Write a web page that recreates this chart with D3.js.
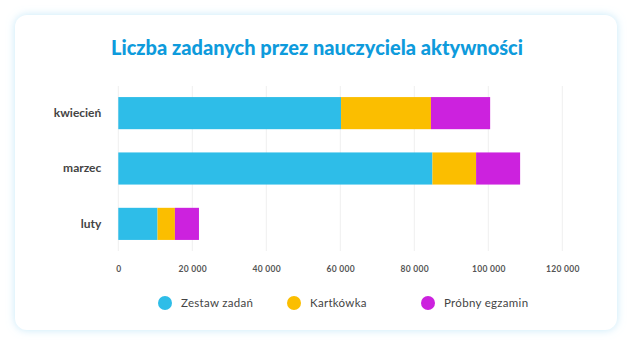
<!DOCTYPE html>
<html>
<head>
<meta charset="utf-8">
<script src="https://cdn.jsdelivr.net/npm/d3@7"></script>
<style>
  html, body { margin: 0; padding: 0; background: #ffffff; }
  svg { display: block; }
</style>
</head>
<body>
<svg id="chart" width="634" height="348"></svg>
<script>
// Months shown on the vertical axis (top to bottom)
const categories = ["kwiecień", "marzec", "luty"];
// Series names and colours
const seriesNames = ["Zestaw zadań", "Kartkówka", "Próbny egzamin"];
const seriesColors = ["#2ebde8", "#fbbe00", "#cc22de"];
// Values per series, aligned with categories
const zestawZadan = [60200, 84900, 10600];
const kartkowka = [24300, 11800, 4700];
const probnyEgzamin = [16000, 11900, 6500];
// Axis ticks
const xTicks = [0, 20000, 40000, 60000, 80000, 100000, 120000];

const seriesValues = [zestawZadan, kartkowka, probnyEgzamin];
const rows = categories.map((c, i) => {
  const r = { category: c };
  seriesNames.forEach((s, j) => { r[s] = seriesValues[j][i]; });
  return r;
});

const svg = d3.select("#chart");
const W = 634, H = 348;
const font = "Lato, 'Open Sans', sans-serif";

// Card with soft blue glow
const defs = svg.append("defs");
const glow = defs.append("filter").attr("id", "glow")
  .attr("x", "-10%").attr("y", "-10%").attr("width", "120%").attr("height", "120%");
glow.append("feDropShadow").attr("dx", 0).attr("dy", 0).attr("stdDeviation", 4)
  .attr("flood-color", "#bfe6f8").attr("flood-opacity", 0.9);

svg.append("rect")
  .attr("x", 15).attr("y", 15).attr("width", 602).attr("height", 315)
  .attr("rx", 12).attr("ry", 12)
  .attr("fill", "#ffffff")
  .attr("filter", "url(#glow)");

// Title
svg.append("text")
  .attr("x", 317).attr("y", 55)
  .attr("text-anchor", "middle")
  .attr("font-family", font)
  .attr("font-weight", 900)
  .attr("font-size", 20)
  .attr("fill", "#0e9bdc")
  .text("Liczba zadanych przez nauczyciela aktywności");

// Plot area
const margin = { left: 118.3, right: 634 - 562.3, top: 86, bottom: 348 - 251 };
const x = d3.scaleLinear().domain([0, 120000]).range([margin.left, W - margin.right]);
const y = d3.scaleBand().domain(categories).range([margin.top, H - margin.bottom])
  .paddingInner(0.42).paddingOuter(0.2);

// Vertical gridlines
svg.append("g").selectAll("line").data(xTicks).join("line")
  .attr("x1", d => x(d)).attr("x2", d => x(d))
  .attr("y1", margin.top).attr("y2", H - margin.bottom)
  .attr("stroke", "#efefef").attr("stroke-width", 1);

// Stacked bars
const stack = d3.stack().keys(seriesNames);
const stacked = stack(rows);
svg.append("g").selectAll("g").data(stacked).join("g")
  .attr("fill", (d, i) => seriesColors[i])
  .selectAll("rect").data(d => d).join("rect")
  .attr("x", d => x(d[0]))
  .attr("width", d => x(d[1]) - x(d[0]))
  .attr("y", d => y(d.data.category))
  .attr("height", y.bandwidth());

// X axis labels (space as thousands separator)
const xAxis = d3.axisBottom(x).tickValues(xTicks).tickSize(0).tickPadding(0)
  .tickFormat(d => d3.format(",")(d).replace(/,/g, "\u00a0"));
const gx = svg.append("g").attr("transform", `translate(0,${H - margin.bottom + 15})`).call(xAxis);
gx.select(".domain").remove();
gx.selectAll("text")
  .attr("font-family", font).attr("font-weight", 700).attr("font-size", 8.5)
  .attr("letter-spacing", 0.3)
  .attr("fill", "#555555");

// Y axis labels
const yAxis = d3.axisLeft(y).tickSize(0).tickPadding(17);
const gy = svg.append("g").attr("transform", `translate(${margin.left},0)`).call(yAxis);
gy.select(".domain").remove();
gy.selectAll("text")
  .attr("font-family", font).attr("font-weight", 700).attr("font-size", 12)
  .attr("fill", "#444444");

// Legend
const legendX = [165, 294, 428];
const legend = svg.append("g").selectAll("g").data(seriesNames).join("g")
  .attr("transform", (d, i) => `translate(${legendX[i]},303)`);
legend.append("circle").attr("r", 7).attr("fill", (d, i) => seriesColors[i]);
legend.append("text")
  .attr("x", 16).attr("dy", "0.35em")
  .attr("font-family", font).attr("font-size", 11.5)
  .attr("letter-spacing", 0.3)
  .attr("fill", "#444444")
  .text(d => d);
</script>
</body>
</html>
